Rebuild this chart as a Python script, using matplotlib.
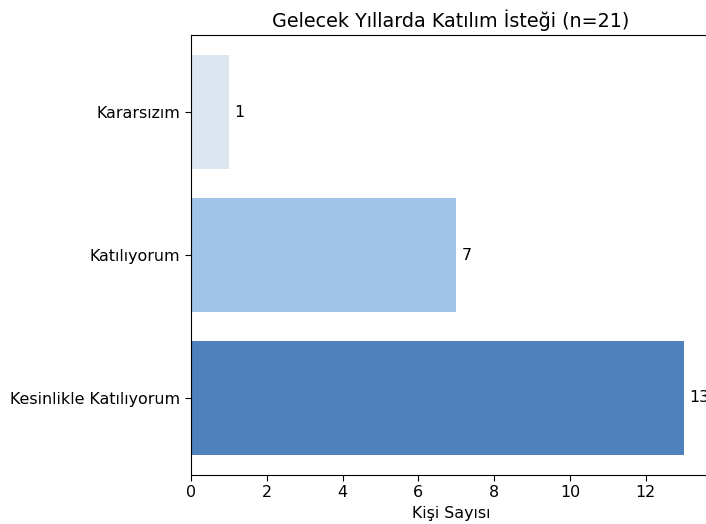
import matplotlib.pyplot as plt

# Katılım isteği anket sonuçları
kategoriler = ["Kesinlikle Katılıyorum", "Katılıyorum", "Kararsızım"]
kisi_sayisi = [13, 7, 1]
renkler = ["#4f81bd", "#9fc4e7", "#dce6f1"]

plt.rcParams["font.size"] = 11.4
plt.rcParams["xtick.major.size"] = 4
plt.rcParams["ytick.major.size"] = 4

fig = plt.figure(figsize=(7.06, 5.24), dpi=100)
ax = fig.add_axes([191 / 706, 49 / 524, 520 / 706, 440 / 524])

bars = ax.barh(kategoriler, kisi_sayisi, color=renkler)
ax.bar_label(bars, padding=4)
ax.set_xlim(0, 13.72)

ax.set_title("Gelecek Yıllarda Katılım İsteği (n=21)", fontsize=13.8)
ax.set_xlabel("Kişi Sayısı")

fig.savefig("out.png", dpi=100)
